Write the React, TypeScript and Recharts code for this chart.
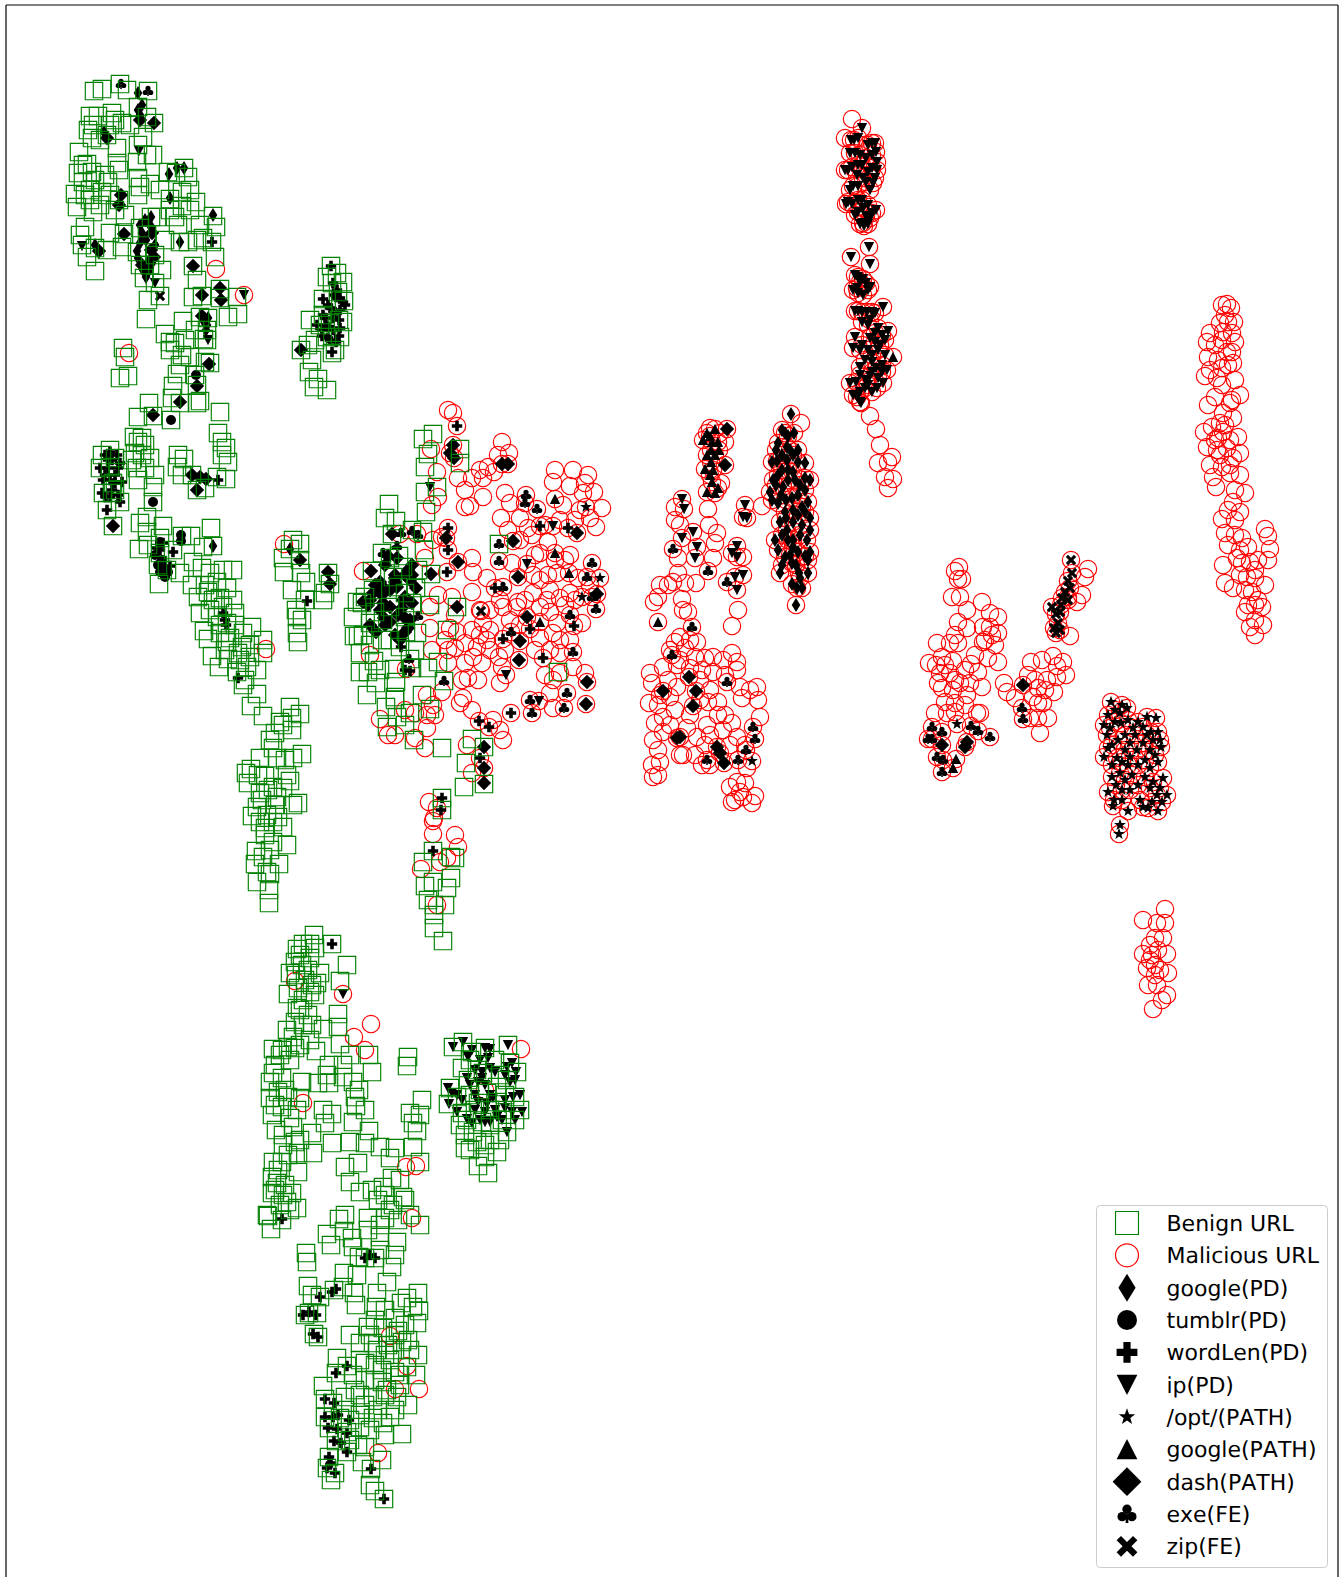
import { ScatterChart, Scatter, XAxis, YAxis, ReferenceLine, Legend } from 'recharts';

type Pt = [number, number];

const yTicks = [214, 442, 670, 898, 1126, 1354];

const legendLabels = [
  'Benign URL', 'Malicious URL', 'google(PD)', 'tumblr(PD)', 'wordLen(PD)', 'ip(PD)',
  '/opt/(PATH)', 'google(PATH)', 'dash(PATH)', 'exe(FE)', 'zip(FE)',
];

// benign squares, cluster by cluster
const benignTop: Pt[] = [
  [94,91],[102,89],[120,84],[127,90],[148,91],[90,116],[98,116],[88,130],[93,125],[92,138],[107,135],[112,113],[115,120],[122,123],[138,107],[147,117],[154,123],[143,137],[138,145],[117,148],[117,163],[119,170],[137,162],[147,155],[153,155],[138,178],[140,187],[150,184],[168,172],[176,173],[184,168],[188,177],[170,199],[182,192],[190,190],[196,202],[182,206],[175,217],[178,225],[213,216],[216,227],[212,242],[180,242],[188,242],[197,240],[203,238],[215,257],[193,266],[197,280],[202,296],[193,297],[220,289],[220,298],[237,297],[238,314],[228,317],[200,317],[208,318],[207,330],[207,340],[204,339],[183,321],[165,334],[170,342],[175,343],[182,355],[190,357],[210,363],[205,362],[195,375],[197,385],[177,374],[173,386],[172,398],[180,403],[197,403],[200,401],[149,403],[153,416],[138,417],[171,420],[220,412],
  [78,173],[83,165],[79,152],[87,164],[92,172],[75,194],[83,182],[77,207],[90,200],[93,212],[108,182],[102,192],[110,195],[119,200],[138,195],[85,227],[80,235],[82,245],[87,257],[95,271],[95,248],[107,250],[110,233],[124,234],[122,247],[140,228],[151,217],[157,217],[147,235],[137,252],[155,255],[140,265],[162,270],[144,278],[155,283],[160,296],[148,300],[146,319],[123,348],[125,357],[120,378],[128,376],
  [100,140],[110,125],[130,125],[95,180],[105,175],[90,190],[100,205],[85,195],[115,210],[125,215],[160,190],[170,210],[190,210],[200,225],[165,240],[150,265],[170,350],[180,365],[185,340],[195,330],
];
const benignSide: Pt[] = [
  [331,266],[327,277],[337,273],[343,282],[332,283],[323,299],[338,292],[344,301],[310,320],[323,315],[343,322],[339,320],[320,325],[330,323],[327,337],[340,337],[315,340],[308,345],[301,350],[332,353],[335,350],[312,360],[309,372],[318,379],[314,387],[327,390],
];
const benignMiddle: Pt[] = [
  [218,433],[222,442],[226,448],[222,455],[228,462],[226,479],[217,477],[178,455],[184,459],[177,467],[182,475],[197,490],[205,488],[192,475],[134,437],[142,438],[138,442],[135,453],[142,455],[150,458],[137,468],[145,468],[155,475],[153,487],[153,502],[138,480],[110,450],[102,455],[115,458],[100,468],[110,467],[118,472],[103,493],[113,483],[120,502],[107,510],[113,526],[112,493],
  [140,523],[147,517],[163,526],[147,532],[160,538],[139,549],[148,545],[182,536],[191,536],[211,528],[213,546],[203,547],[160,553],[173,550],[158,565],[167,570],[159,584],[193,562],[180,573],[202,568],[192,585],[210,573],[223,570],[233,570],[217,582],[198,597],[208,592],[227,588],[233,600],[200,613],[213,600],[223,607],[235,613],[217,617],[227,623],[204,631],[208,639],[220,633],[252,627],[243,633],[263,640],[263,653],[230,638],[227,642],[212,656],[242,647],[228,659],[238,653],[250,657],[219,667],[257,670],[247,667],[237,672],[243,685],[257,694],[251,706],[263,716],
  [293,540],[300,544],[290,549],[283,558],[300,560],[284,572],[301,573],[306,582],[292,590],[305,600],[323,600],[328,573],[330,584],[325,593],[296,610],[302,620],[297,617],[297,633],[298,642],
  [210,610],[220,625],[235,625],[240,660],[225,650],[250,645],[205,585],[220,598],[245,680],[115,490],[132,460],[145,445],
];
const benignMixed: Pt[] = [
  [423,439],[433,434],[428,454],[425,467],[437,487],[425,492],[426,512],[460,449],[460,463],[389,504],[385,518],[396,521],[392,534],[412,530],[423,532],[382,553],[399,556],[424,550],[390,558],[372,571],[393,577],[403,567],[431,574],[418,570],[373,590],[398,587],[365,597],[357,602],[362,603],[430,605],[457,607],[353,617],[375,612],[390,607],[405,593],[416,588],[412,603],[370,623],[383,620],[405,617],[417,633],[354,636],[358,636],[363,635],[390,640],[406,632],[447,630],[360,653],[374,661],[400,647],[360,672],[368,672],[376,683],[367,695],[394,669],[410,659],[438,662],[428,668],[396,682],[444,681],[412,668],[386,707],[395,697],[422,695],[430,709],[410,713],[397,717],[387,727],[414,740],[442,748],[499,544],[558,672],[472,739],[484,747],[466,763],[484,784],[464,787],
  [442,798],[442,810],[433,851],[423,862],[451,857],[455,858],[425,886],[433,882],[447,888],[451,878],[428,900],[434,905],[445,905],[434,915],[434,928],[443,941],
  [380,670],[370,645],[395,700],[405,725],[415,650],[382,640],
];
const benignStem: Pt[] = [
  [290,707],[300,714],[280,722],[292,718],[283,725],[292,730],[275,733],[270,740],[273,748],[302,754],[293,758],[260,758],[277,758],[251,769],[246,773],[265,776],[287,775],[290,781],[248,783],[260,793],[273,787],[283,788],[277,797],[298,803],[293,805],[257,807],[252,816],[267,815],[278,817],[260,822],[273,822],[283,827],[265,828],[273,842],[287,845],[256,851],[263,857],[255,864],[279,864],[267,872],[270,874],[257,882],[269,890],[269,903],
  [258,775],[268,790],[275,805],[265,835],[270,850],[262,800],[285,760],
];
const benignLower: Pt[] = [
  [314,935],[303,944],[297,949],[310,944],[332,944],[315,948],[347,965],[295,962],[302,965],[290,973],[308,970],[320,973],[317,983],[340,981],[288,994],[298,988],[310,992],[315,995],[303,1000],[297,1008],[338,1014],[338,1027],[295,1022],[312,1025],[323,1029],[287,1030],[303,1025],[293,1037],[288,1047],[273,1049],[282,1050],[295,1048],[316,1051],[340,1044],[350,1055],[369,1055],[372,1072],[329,1065],[343,1065],[327,1075],[329,1083],[343,1077],[353,1082],[359,1090],[408,1057],[407,1066],[273,1073],[270,1082],[282,1078],[302,1082],[318,1083],[270,1098],[278,1092],[288,1097],[300,1098],[272,1115],[282,1107],[297,1110],[323,1110],[332,1114],[355,1097],[356,1106],[365,1110],[325,1123],[353,1122],[369,1131],[410,1113],[422,1100],[420,1115],[413,1123],[417,1131],[276,1130],[293,1127],[312,1133],[283,1145],[295,1142],[332,1143],[350,1142],[365,1143],[313,1153],[298,1153],[282,1162],[273,1162],[272,1177],[345,1167],[358,1163],[350,1182],[380,1147],[395,1148],[390,1158],[413,1147],[420,1162],[298,1172],[277,1183],[272,1193],[283,1195],[292,1193],[287,1202],[297,1208],[267,1215],[282,1220],[360,1192],[372,1190],[378,1200],[392,1178],[400,1180],[383,1187],[403,1197],[393,1205],
  [300,955],[310,958],[296,975],[305,980],[312,985],[300,1010],[308,1015],[280,1055],[290,1060],[275,1065],[285,1090],[275,1105],[290,1118],[283,1135],[300,1140],[288,1155],[278,1170],[285,1185],[290,1210],[300,1045],[310,1040],[275,1190],[280,1205],
];
const benignIpBlob: Pt[] = [
  [453,1047],[463,1042],[472,1052],[485,1048],[508,1045],[462,1068],[468,1080],[450,1088],[448,1104],[457,1097],[462,1113],[477,1070],[483,1073],[510,1063],[517,1072],[507,1080],[515,1097],[480,1090],[487,1093],[497,1087],[497,1102],[478,1103],[467,1120],[482,1122],[502,1120],[515,1120],[507,1132],[473,1132],[465,1148],[477,1142],[497,1152],[485,1157],[488,1173],[478,1166],[490,1140],
  [470,1060],[495,1060],[500,1075],[470,1095],[505,1095],[490,1110],[505,1110],[520,1110],[475,1110],[460,1125],[490,1125],[470,1150],[485,1145],[500,1140],[465,1135],
];
const benignBottom: Pt[] = [
  [268,1216],[271,1229],[327,1234],[339,1219],[345,1215],[344,1231],[331,1245],[352,1238],[353,1247],[306,1253],[307,1262],[359,1257],[365,1258],[375,1258],[368,1218],[368,1230],[380,1237],[385,1218],[397,1242],[398,1220],[420,1225],[392,1267],[387,1282],[344,1273],[357,1275],[308,1286],[312,1295],[320,1297],[334,1290],[343,1287],[354,1293],[356,1305],[377,1293],[376,1307],[401,1303],[407,1298],[418,1293],[413,1307],[419,1311],[305,1315],[317,1313],[309,1313],[314,1334],[318,1337],[350,1335],[368,1327],[383,1328],[395,1318],[398,1331],[417,1323],[408,1340],[360,1343],[373,1343],[388,1345],[377,1350],[402,1342],[418,1355],[407,1367],[337,1358],[347,1366],[336,1373],[353,1375],[365,1363],[382,1370],[365,1380],[382,1382],[395,1372],[416,1375],[323,1386],[325,1399],[345,1397],[360,1395],[373,1397],[387,1390],[408,1405],[397,1397],[325,1417],[333,1403],[340,1418],[350,1420],[373,1418],[390,1417],[329,1428],[347,1432],[360,1427],[383,1423],[402,1434],[336,1441],[347,1452],[365,1447],[329,1457],[327,1468],[335,1473],[331,1480],[362,1462],[371,1469],[382,1460],[370,1485],[375,1491],[384,1499],
  [375,1320],[385,1310],[395,1335],[405,1325],[370,1335],[385,1355],[395,1350],[410,1350],[360,1360],[375,1365],[390,1360],[400,1375],[375,1380],[385,1395],[400,1385],[355,1390],[365,1405],[378,1410],[395,1410],[345,1410],[360,1415],[370,1430],[385,1435],[350,1440],[358,1445],[380,1225],[390,1210],[410,1215],[380,1250],[395,1255],[405,1200],[385,1195],
];

// malicious circles without a feature mark
const maliciousStray: Pt[] = [
  [216,269],[129,353],[266,649],[284,544],[429,802],[437,808],[434,818],[433,821],[433,834],[455,835],[458,847],[447,858],[440,862],[421,869],[437,905],
  [295,981],[371,1024],[354,1037],[365,1050],[303,1103],[406,1167],[416,1166],[412,1218],[521,1049],[485,1090],[390,1336],[407,1366],[395,1389],[419,1389],[378,1453],
];
const maliciousMixed: Pt[] = [
  [448,410],[453,413],[431,449],[437,472],[458,478],[472,478],[465,490],[483,497],[465,507],[470,506],[438,497],[432,505],[480,470],[488,467],[483,478],[494,472],[502,442],[498,455],[509,453],[555,470],[573,470],[588,475],[553,482],[570,486],[585,483],[594,492],[583,493],[563,505],[602,508],[590,518],[596,527],[505,493],[510,503],[501,518],[508,530],[520,518],[528,528],[532,535],[548,542],[540,553],[512,563],[533,575],[540,580],[548,575],[557,573],[578,578],[570,593],[560,598],[547,600],[533,593],[518,602],[487,578],[473,572],[472,558],[438,595],[472,592],[452,597],[480,610],[490,610],[503,607],[517,607],[540,607],[550,612],[582,623],[557,623],[540,638],[553,633],[430,607],[430,628],[450,628],[457,632],[483,623],[472,630],[465,643],[448,650],[455,648],[477,647],[487,640],[432,650],[448,663],[473,657],[465,663],[482,663],[499,657],[502,667],[468,678],[462,680],[478,680],[500,683],[550,650],[560,653],[545,675],[553,680],[560,673],[573,667],[585,673],[553,708],[550,693],[493,720],[503,740],[500,730],[467,745],[472,773],[472,710],[460,703],[463,698],[433,705],
  [380,719],[405,710],[388,735],[395,735],[425,748],[415,713],[427,715],[435,715],[427,728],[415,738],[427,695],[442,692],[406,669],[370,655],[400,534],[417,534],[363,571],[425,558],[433,540],[442,537],
  [500,600],[510,620],[525,600],[550,590],[565,605],[575,600],[490,630],[480,635],[505,650],[520,625],[560,640],[570,640],[535,650],[490,650],[455,615],[445,640],[560,520],[575,520],[565,560],[580,510],[545,525],[520,540],[535,555],[555,560],[570,555],[590,585],
];
const maliciousCentre: Pt[] = [
  [710,428],[720,433],[725,442],[721,483],[675,507],[675,520],[680,525],[708,509],[709,525],[717,533],[715,543],[713,558],[678,558],[678,573],[660,585],[668,585],[673,582],[685,583],[696,583],[658,597],[654,602],[682,599],[683,610],[688,612],[762,506],[738,610],[732,626],[743,557],[680,637],[675,642],[690,640],[697,642],
  [685,648],[695,657],[705,658],[713,657],[732,653],[723,660],[737,662],[650,673],[663,667],[677,665],[702,670],[713,672],[737,670],[740,687],[750,690],[757,687],[758,700],[652,683],[677,687],[710,690],[718,702],[649,703],[658,705],[670,697],[708,702],[742,698],[760,717],[655,723],[663,717],[687,728],[707,725],[718,715],[732,723],[653,740],[663,732],[697,737],[723,730],[737,737],[658,750],[683,755],[695,755],[652,765],[660,762],[702,765],[710,765],[747,768],[653,777],[658,775],[745,783],[737,782],[730,787],[755,796],[735,800],[743,797],[752,803],[732,802],[740,792],
  [801,423],[852,119],[845,138],[870,416],[876,429],[880,445],[878,463],[892,457],[888,462],[885,477],[893,479],[888,488],
  [670,650],[680,660],[690,668],[700,680],[725,675],[668,680],[660,695],[675,710],[690,715],[700,700],[725,715],[710,735],[670,725],[680,755],[705,745],[730,745],[745,745],
];
const maliciousRibbon: Pt[] = [
  [1227,304],[1222,305],[1231,308],[1220,323],[1228,322],[1234,322],[1210,333],[1223,332],[1232,333],[1207,342],[1222,340],[1235,342],[1208,357],[1218,360],[1227,352],[1232,352],[1233,363],[1222,368],[1205,376],[1217,378],[1235,380],[1222,385],[1215,397],[1208,405],[1230,403],[1240,395],[1223,413],[1233,418],[1220,423],[1212,427],[1204,432],[1223,432],[1238,437],[1218,438],[1230,440],[1207,447],[1217,450],[1227,448],[1240,453],[1233,458],[1210,465],[1222,467],[1213,477],[1216,487],[1230,473],[1240,475],[1235,490],[1245,493],[1233,502],[1240,512],[1222,519],[1235,520],[1225,533],[1235,535],[1242,538],[1228,545],[1265,529],[1268,536],[1270,549],[1268,560],[1248,547],[1258,560],[1223,565],[1225,583],[1233,588],[1242,563],[1250,562],[1247,577],[1255,578],[1265,585],[1252,592],[1245,612],[1262,607],[1255,605],[1250,627],[1263,625],[1255,635],[1255,620],[1237,558],
  [1225,315],[1215,345],[1228,365],[1210,370],[1232,400],[1225,425],[1215,440],[1230,465],[1220,455],[1228,510],[1240,550],[1255,570],[1240,575],[1245,590],[1258,600],[1248,605],
];
const maliciousRight: Pt[] = [
  [959,567],[955,571],[958,579],[962,579],[952,597],[960,597],[982,602],[967,610],[990,613],[998,617],[958,622],[967,628],[983,627],[990,627],[998,633],[955,635],[937,643],[950,643],[958,643],[983,642],[995,645],[988,658],[998,662],[929,663],[942,657],[953,661],[936,665],[971,664],[978,672],[940,673],[950,673],[938,683],[960,683],[970,683],[982,687],[942,688],[953,690],[967,695],[945,702],[955,703],[935,713],[947,713],[977,713],[980,713],
  [1004,683],[1007,692],[1015,698],[1031,662],[1042,660],[1053,656],[1063,662],[1028,675],[1057,666],[1066,675],[1047,680],[1057,677],[1038,688],[1054,692],[1033,697],[1038,703],[1048,718],[1038,718],[1030,718],[1040,733],[1043,703],
  [1088,569],[1085,577],[1082,595],[1077,602],[1070,636],[1068,597],
  [1165,909],[1143,920],[1157,923],[1165,923],[1155,938],[1163,938],[1143,954],[1152,955],[1167,954],[1147,968],[1155,965],[1160,970],[1168,973],[1148,985],[1157,985],[1167,995],[1162,1000],[1153,1009],
  [945,665],[955,680],[965,670],[975,655],[985,640],[992,635],[955,712],[965,705],[1150,945],[1158,950],[1150,960],[1155,975],[1035,680],[1045,690],
];

// feature marks sitting on a benign square
const googlePdBenign: Pt[] = [[138,93],[104,132],[169,174],[177,168],[184,168],[170,198],[213,215],[151,217],[145,220],[142,233],[180,242],[95,245],[137,251],[152,263],[146,277],[208,318],[206,330],[213,546],[290,549],
  [140,225],[148,222],[152,228],[146,240],[140,243],[138,258],[148,262],[143,270],[148,272],[155,245],[150,268],[138,110],[142,105],[140,115],[205,322],[207,325],[203,320]];
const tumblrPdBenign: Pt[] = [[196,375],[171,420],[153,502],[181,535],[181,541],[158,565],[165,577],[160,542],[155,555],[160,572],[168,572],[162,560]];
const wordLenBenign: Pt[] = [
  [212,242],[331,266],[333,283],[337,290],[323,299],[336,297],[343,302],[323,315],[330,308],[317,325],[333,318],[339,320],[328,327],[322,336],[328,338],[339,336],[332,352],
  [334,295],[340,298],[328,305],[325,318],[335,312],[345,305],[326,325],[340,328],[333,330],[322,330],[330,340],[336,342],[340,310],
  [110,452],[105,455],[117,455],[100,468],[108,468],[120,463],[110,480],[115,483],[122,482],[102,493],[110,497],[120,502],[107,510],[218,480],[160,550],[163,543],[157,548],[173,552],[165,567],[170,566],[223,613],[225,620],[226,625],[238,678],[307,601],[401,647],[405,670],[410,671],[442,798],[441,810],[433,851],
  [108,460],[112,460],[105,475],[115,475],[103,480],[112,490],[118,495],[106,497],[118,468],
  [332,944],[282,1219],[365,1258],[370,1255],[375,1258],[320,1297],[332,1292],[336,1289],[303,1315],[309,1312],[316,1315],[313,1334],[318,1337],[347,1366],[336,1373],[325,1399],[334,1403],[325,1417],[333,1417],[338,1415],[349,1420],[328,1428],[337,1429],[347,1433],[334,1441],[341,1443],[347,1452],[329,1457],[331,1463],[327,1468],[335,1473],[371,1469],[384,1499],
];
const ipPdBenign: Pt[] = [
  [139,151],[82,246],[155,283],[208,340],[430,487],
  [453,1047],[463,1042],[472,1050],[468,1057],[485,1048],[490,1049],[508,1045],[507,1067],[512,1063],[516,1072],[510,1082],[475,1070],[482,1072],[490,1068],[467,1078],[448,1088],[457,1095],[449,1104],[457,1112],[467,1119],[478,1102],[487,1104],[480,1120],[485,1122],[497,1117],[502,1120],[515,1120],[507,1132],[513,1097],[493,1098],[482,1078],
  [480,1060],[488,1058],[495,1072],[505,1075],[515,1080],[478,1082],[485,1085],[470,1085],[475,1095],[490,1095],[505,1100],[520,1095],[452,1093],[462,1100],[475,1110],[485,1112],[495,1110],[505,1108],[512,1112],[522,1112],[472,1123],[490,1122],
];
const dashBenign: Pt[] = [
  [154,123],[107,138],[140,120],[121,195],[119,205],[124,234],[152,233],[99,251],[151,250],[154,257],[193,266],[142,265],[202,295],[220,288],[221,300],[202,316],[209,364],[197,386],[180,402],[153,415],[301,350],[113,526],[192,475],[200,477],[206,479],[197,490],[300,560],[328,572],[330,584],
  [392,534],[388,556],[397,558],[371,571],[412,565],[408,570],[395,575],[431,574],[378,590],[373,593],[383,587],[363,602],[397,587],[416,588],[405,597],[412,603],[383,603],[390,607],[384,618],[405,618],[370,625],[408,628],[395,635],[405,632],[457,607],[484,747],[484,783],
  [375,585],[380,582],[370,600],[368,605],[382,595],[390,590],[395,582],[405,575],[412,575],[380,610],[385,625],[402,608],[398,615],[410,620],[376,632],[403,600],[390,622],[400,640],[395,578],[385,565],[410,580],
];
const exeBenign: Pt[] = [[121,84],[148,91],[401,533],[412,531],[418,535],[397,546],[383,553],[418,616],[409,659],[444,681],[499,544]];
const zipBenign: Pt[] = [[160,296]];

// feature marks sitting on a malicious circle
const googlePdMalicious: Pt[] = [
  [791,414],[785,433],[794,433],[778,443],[787,447],[777,461],[793,455],[805,463],[787,460],[778,475],[793,472],[810,480],[773,480],[783,487],[770,492],[800,485],[778,503],[792,498],[808,502],[802,507],[780,522],[793,522],[810,518],[802,525],[775,540],[793,540],[807,540],[785,557],[792,563],[805,556],[780,573],[799,573],[808,573],[797,588],[802,588],[796,605],[793,547],[787,530],
  [782,430],[788,436],[776,450],[782,455],[790,450],[798,450],[772,462],[782,470],[798,462],[788,470],[776,485],[788,480],[795,480],[805,478],[781,495],[786,500],[798,495],[805,490],[772,500],[785,512],[793,510],[805,512],[810,530],[786,518],[798,515],[782,535],[788,540],[800,535],[778,550],[790,555],[798,552],[810,552],[782,565],[796,565],[800,578],[792,584],[808,560],
];
const wordLenMalicious: Pt[] = [[457,426],[540,526],[568,528],[495,588],[448,528],[448,550],[447,572],[530,629],[574,626],[503,639],[543,658],[511,713],[479,721],[489,727],[480,758]];
const ipPdMalicious: Pt[] = [
  [244,295],[343,994],[553,526],[527,564],[506,675],[539,701],
  [682,499],[684,509],[693,532],[682,538],[697,547],[695,558],[745,505],[743,517],[747,518],[737,546],[732,553],[737,557],[743,575],[735,577],[737,590],
  [862,128],[854,140],[872,143],[855,153],[872,155],[848,170],[858,165],[872,168],[877,162],[863,178],[853,186],[873,183],[848,202],[858,200],[863,208],[872,213],[855,215],[863,223],[868,224],
  [851,140],[858,138],[868,145],[875,143],[850,153],[860,155],[866,158],[876,152],[852,167],[862,165],[868,172],[877,170],[845,170],[857,175],[866,182],[870,190],[850,190],[858,186],[875,178],[846,204],[852,204],[862,200],[868,205],[858,212],[866,216],[876,210],[860,224],[870,218],[864,226],
  [869,247],[851,257],[870,264],[858,277],[863,279],[857,288],[870,287],[863,295],[883,307],[858,311],[867,312],[875,313],[868,325],[888,331],[875,333],[855,337],[880,345],[853,348],[860,350],[872,355],[860,367],[882,365],[887,370],[872,372],[856,382],[883,383],[865,388],[877,388],[860,402],[857,397],[861,403],
  [855,275],[860,282],[866,283],[853,290],[858,293],[868,290],[855,311],[862,312],[872,312],[862,322],[870,320],[878,328],[882,335],[870,338],[875,342],[885,340],[878,350],[862,345],[868,350],[865,360],[872,362],[885,355],[876,368],[882,372],[860,375],[866,380],[870,376],[878,378],[850,383],[872,392],[860,392],[868,385],[853,395],
];
const optMalicious: Pt[] = [
  [586,507],[582,597],[600,578],[752,761],[957,724],
  [1111,702],[1127,708],[1108,715],[1120,713],[1147,717],[1156,718],[1121,723],[1133,728],[1143,727],[1151,732],[1158,732],[1107,735],[1118,740],[1130,743],[1143,743],[1161,747],[1108,748],[1153,740],[1104,757],[1117,758],[1130,757],[1145,760],[1158,762],[1120,773],[1112,777],[1132,775],[1145,777],[1163,778],[1108,792],[1122,790],[1150,788],[1157,795],[1167,795],[1113,806],[1128,811],[1143,807],[1158,811],[1148,808],[1120,825],[1119,834],
  [1115,710],[1122,705],[1104,725],[1115,722],[1128,720],[1138,722],[1110,728],[1125,735],[1135,735],[1147,735],[1160,740],[1112,745],[1125,750],[1137,750],[1150,750],[1112,765],[1122,762],[1138,765],[1150,768],[1155,755],[1128,765],[1125,780],[1138,785],[1153,782],[1160,788],[1116,785],[1130,790],[1114,800],[1140,800],[1152,802],[1162,802],[1122,800],
];
const googlePathMalicious: Pt[] = [
  [555,499],[555,553],[569,573],[540,622],[658,622],[893,357],[956,759],[953,768],
  [707,433],[715,429],[712,442],[718,442],[707,455],[715,455],[705,469],[713,470],[712,482],[707,492],[715,493],
  [710,436],[703,440],[711,450],[719,450],[711,462],[710,475],[718,488],
];
const dashMalicious: Pt[] = [
  [453,445],[454,458],[450,453],[508,464],[502,464],[513,541],[577,533],[518,577],[597,594],[446,538],[458,562],[527,617],[520,641],[519,660],[587,682],[586,704],[484,768],
  [727,429],[725,465],[689,677],[663,691],[696,691],[693,706],[677,738],[680,737],[717,747],[720,753],[724,763],[1023,685],[942,745],[967,742],[965,747],
];
const exeMalicious: Pt[] = [
  [526,495],[525,503],[537,509],[592,563],[587,577],[592,597],[596,609],[503,587],[511,632],[570,615],[573,652],[567,693],[530,700],[532,713],[564,708],[499,561],
  [673,549],[708,571],[727,582],[692,627],[672,655],[727,682],[753,727],[755,739],[746,750],[738,760],[707,760],
  [932,727],[942,732],[971,726],[978,731],[990,737],[928,739],[932,739],[937,757],[943,760],[942,772],[1022,708],[1023,719],
];
const zipMalicious: Pt[] = [[481,611],[1071,560],[1072,573],[1070,588],[1065,592],[1061,605],[1056,614],[1058,623],[1056,633],[1068,581],[1062,598],[1068,600],[1052,607],[1060,612],[1054,628],[1060,630]];

const benign: Pt[] = [...benignTop, ...benignSide, ...benignMiddle, ...benignMixed, ...benignStem, ...benignLower, ...benignIpBlob, ...benignBottom];
const malicious: Pt[] = [
  ...maliciousStray, ...maliciousMixed, ...maliciousCentre, ...maliciousRibbon, ...maliciousRight,
  ...googlePdMalicious, ...wordLenMalicious, ...ipPdMalicious, ...optMalicious, ...googlePathMalicious, ...dashMalicious, ...exeMalicious, ...zipMalicious,
];

const rows = (pts: Pt[]) => pts.map(([x, y]) => ({ x, y }));

function Mark({ kind, cx, cy, s = 1 }: { kind: string; cx?: number; cy?: number; s?: number }) {
  const t = `translate(${cx},${cy}) scale(${s})`;
  if (kind === 'square')
    return <rect transform={t} x={-8.7} y={-8.7} width={17.4} height={17.4} fill="none" stroke="#008000" strokeWidth={1.15} vectorEffect="non-scaling-stroke" />;
  if (kind === 'ring')
    return <circle transform={t} r={8.7} fill="none" stroke="#ff0000" strokeWidth={1.15} vectorEffect="non-scaling-stroke" />;
  if (kind === 'dot') return <circle transform={t} r={5} fill="#000" />;
  if (kind === 'club')
    return (
      <g transform={t} fill="#000">
        <circle cx={0} cy={-2.6} r={2.6} />
        <circle cx={-2.7} cy={1.5} r={2.6} />
        <circle cx={2.7} cy={1.5} r={2.6} />
        <path d="M-0.5,0 L0.5,0 L0.8,5 L-0.8,5 Z" />
      </g>
    );
  const paths: Record<string, string> = {
    thin: 'M0,-7 L4.3,0 L0,7 L-4.3,0 Z',
    plus: 'M-1.8,-5.2 L1.8,-5.2 L1.8,-1.8 L5.2,-1.8 L5.2,1.8 L1.8,1.8 L1.8,5.2 L-1.8,5.2 L-1.8,1.8 L-5.2,1.8 L-5.2,-1.8 L-1.8,-1.8 Z',
    down: 'M-5.2,-5 L5.2,-5 L0,5.2 Z',
    up: 'M0,-5.2 L5.2,5 L-5.2,5 Z',
    star: 'M0,-6.2 L1.5,-2 L5.9,-1.9 L2.4,0.8 L3.6,5 L0,2.5 L-3.6,5 L-2.4,0.8 L-5.9,-1.9 L-1.5,-2 Z',
    dash: 'M0,-7.2 L7.2,0 L0,7.2 L-7.2,0 Z',
    cross: 'M-3,-5.2 L0,-2.2 L3,-5.2 L5.2,-3 L2.2,0 L5.2,3 L3,5.2 L0,2.2 L-3,5.2 L-5.2,3 L-2.2,0 L-5.2,-3 Z',
  };
  return <path transform={t} d={paths[kind]} fill="#000" />;
}

const shape = (kind: string) => (props: any) => <Mark kind={kind} cx={props.cx} cy={props.cy} />;

const legendMarks: [string, number][] = [
  ['square', 1.32], ['ring', 1.32], ['thin', 2], ['dot', 2], ['plus', 2], ['down', 2],
  ['star', 1.4], ['up', 2], ['dash', 2], ['club', 1.8], ['cross', 2],
];

function UrlLegend() {
  return (
    <svg width={233} height={364} style={{ display: 'block' }}>
      <rect x={0.5} y={0.5} width={231} height={362} rx={4} fill="#fff" fillOpacity={0.8} stroke="#cccccc" />
      {legendLabels.map((label, i) => (
        <g key={label}>
          <Mark kind={legendMarks[i][0]} cx={31} cy={18 + i * 32.33} s={legendMarks[i][1]} />
          <text x={70.5} y={26 + i * 32.33} fontFamily="DejaVu Sans" fontSize={22} textRendering="geometricPrecision" style={{ fontKerning: 'none' }} fill="#000">{label}</text>
        </g>
      ))}
    </svg>
  );
}

export default function App() {
  return (
    <div style={{ position: 'absolute', left: 0, top: 0, width: 1343, height: 1577, background: '#fff' }}>
      <ScatterChart width={1343} height={1577} margin={{ top: 0, right: 5, bottom: 0, left: 0 }}>
        <XAxis type="number" dataKey="x" orientation="top" height={5} domain={[6, 1338]} tick={false} tickLine={false} axisLine={{ stroke: '#000', strokeWidth: 1.2 }} />
        <YAxis type="number" dataKey="y" width={6} reversed domain={[5, 1577]} ticks={yTicks} tick={false} tickSize={5} tickLine={{ stroke: '#777' }} axisLine={{ stroke: '#000', strokeWidth: 1.2 }} />
        <ReferenceLine x={1338} stroke="#000" strokeWidth={1.2} />
        <Legend layout="horizontal" align="center" verticalAlign="middle" content={<UrlLegend />} wrapperStyle={{ left: 1096, top: 1205, width: 233, height: 364 }} />
        <Scatter name="Malicious URL" data={rows(malicious)} shape={shape('ring')} isAnimationActive={false} />
        <Scatter name="google(PD)" data={rows([...googlePdBenign, ...googlePdMalicious])} shape={shape('thin')} isAnimationActive={false} />
        <Scatter name="tumblr(PD)" data={rows(tumblrPdBenign)} shape={shape('dot')} isAnimationActive={false} />
        <Scatter name="wordLen(PD)" data={rows([...wordLenBenign, ...wordLenMalicious])} shape={shape('plus')} isAnimationActive={false} />
        <Scatter name="ip(PD)" data={rows([...ipPdBenign, ...ipPdMalicious])} shape={shape('down')} isAnimationActive={false} />
        <Scatter name="/opt/(PATH)" data={rows(optMalicious)} shape={shape('star')} isAnimationActive={false} />
        <Scatter name="google(PATH)" data={rows(googlePathMalicious)} shape={shape('up')} isAnimationActive={false} />
        <Scatter name="dash(PATH)" data={rows([...dashBenign, ...dashMalicious])} shape={shape('dash')} isAnimationActive={false} />
        <Scatter name="exe(FE)" data={rows([...exeBenign, ...exeMalicious])} shape={shape('club')} isAnimationActive={false} />
        <Scatter name="zip(FE)" data={rows([...zipBenign, ...zipMalicious])} shape={shape('cross')} isAnimationActive={false} />
        <Scatter name="Benign URL" data={rows(benign)} shape={shape('square')} isAnimationActive={false} />
      </ScatterChart>
    </div>
  );
}
